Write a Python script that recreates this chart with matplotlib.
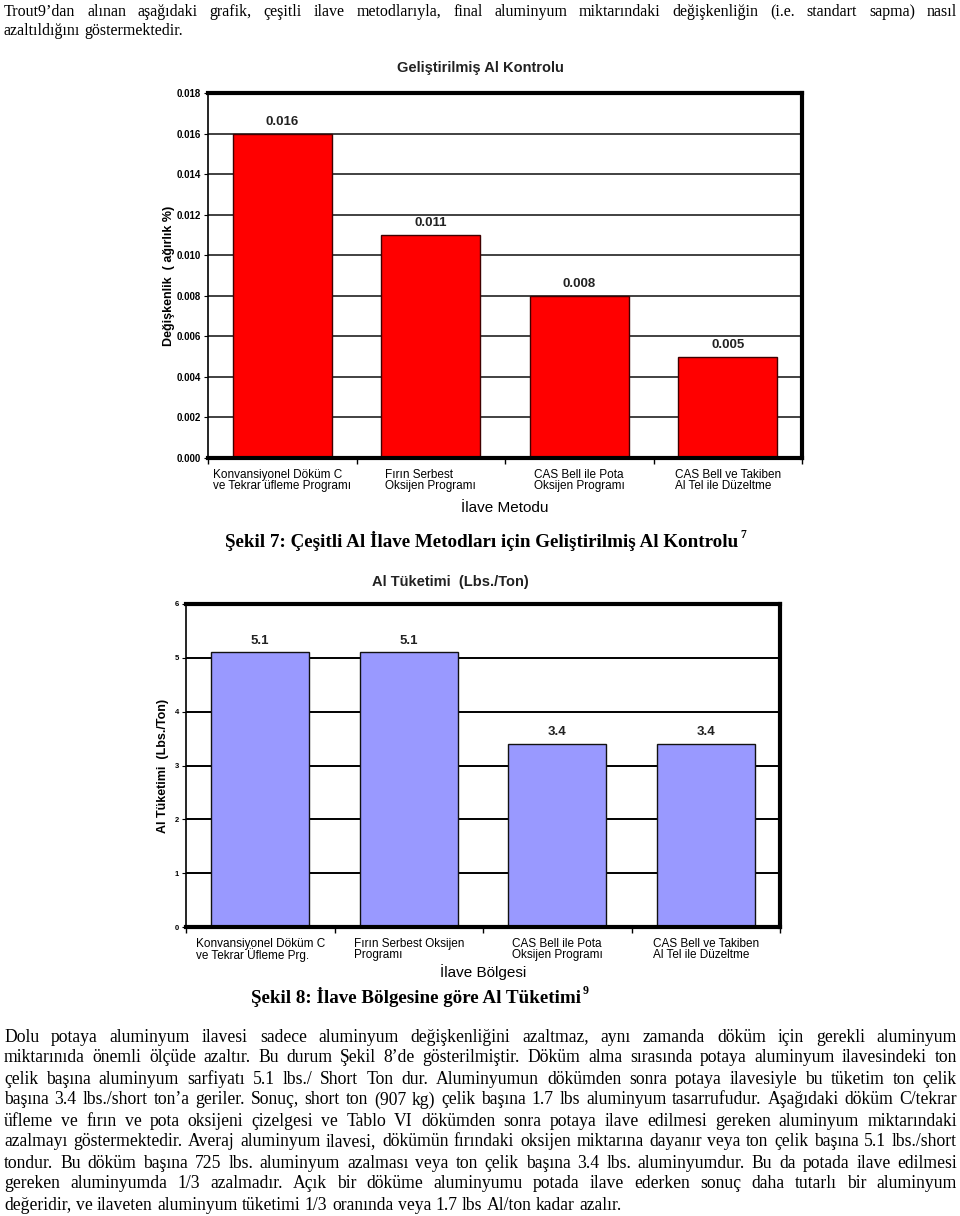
import numpy as np
import matplotlib
matplotlib.use("Agg")
import matplotlib.pyplot as plt

# chart 1 - improved Al control
methods1 = ["Konvansiyonel Döküm C\nve Tekrar üfleme Programı",
            "Fırın Serbest\nOksijen Programı",
            "CAS Bell ile Pota\nOksijen Programı",
            "CAS Bell ve Takiben\nAl Tel ile Düzeltme"]
variation = [0.016, 0.011, 0.008, 0.005]
value_labels1 = ["0.016", "0.011", "0.008", "0.005"]

# chart 2 - Al consumption
methods2 = ["Konvansiyonel Döküm C\nve Tekrar Üfleme Prg.",
            "Fırın Serbest Oksijen\nProgramı",
            "CAS Bell ile Pota\nOksijen Programı",
            "CAS Bell ve Takiben\nAl Tel ile Düzeltme"]
consumption = [5.1, 5.1, 3.4, 3.4]

top_lines = ["Trout9’dan alınan aşağıdaki grafik, çeşitli ilave metodlarıyla, final aluminyum miktarındaki değişkenliğin (i.e. standart sapma) nasıl",
             "azaltıldığını göstermektedir."]
para_lines = [
    "Dolu potaya aluminyum ilavesi sadece aluminyum değişkenliğini azaltmaz, aynı zamanda döküm için gerekli aluminyum",
    "miktarınıda önemli ölçüde azaltır. Bu durum Şekil 8’de gösterilmiştir. Döküm alma sırasında potaya aluminyum ilavesindeki ton",
    "çelik başına aluminyum sarfiyatı 5.1 lbs./ Short Ton dur. Aluminyumun dökümden sonra potaya ilavesiyle bu tüketim ton çelik",
    "başına 3.4 lbs./short ton’a geriler. Sonuç, short ton (907 kg) çelik başına 1.7 lbs aluminyum tasarrufudur. Aşağıdaki döküm C/tekrar",
    "üfleme ve fırın ve pota oksijeni çizelgesi ve Tablo VI dökümden sonra potaya ilave edilmesi gereken aluminyum miktarındaki",
    "azalmayı göstermektedir. Averaj aluminyum ilavesi, dökümün fırındaki oksijen miktarına dayanır veya ton çelik başına 5.1 lbs./short",
    "tondur. Bu döküm başına 725 lbs. aluminyum azalması veya  ton çelik başına 3.4 lbs. aluminyumdur. Bu da potada ilave edilmesi",
    "gereken aluminyumda 1/3 azalmadır.  Açık bir döküme aluminyumu potada ilave ederken sonuç daha tutarlı bir aluminyum",
    "değeridir, ve ilaveten aluminyum tüketimi 1/3 oranında veya 1.7 lbs Al/ton kadar azalır.",
]

W, H = 960, 1216
fig = plt.figure(figsize=(W / 100, H / 100), dpi=100)
fig.patch.set_facecolor("white")
SANS = "Liberation Sans"
SERIF = "Liberation Serif"


def px_axes(l, t, r, b):
    return fig.add_axes([l / W, 1 - b / H, (r - l) / W, (b - t) / H])


def style_frame(ax):
    ax.spines["left"].set_linewidth(1.2)
    for s in ["top", "right", "bottom"]:
        ax.spines[s].set_linewidth(3)
    ax.set_xlim(-0.5, 3.5)
    ax.set_xticks(np.arange(4))
    ax.tick_params(axis="x", length=0, pad=8)
    ax.set_xticks(np.arange(-0.5, 4, 1), minor=True)
    ax.tick_params(axis="x", which="minor", length=4, width=1, direction="out")
    ax.set_axisbelow(True)


# ---- chart 1
ax1 = px_axes(208, 93, 802, 458)
x = np.arange(len(variation))
ax1.bar(x, variation, width=0.67, color="#ff0000", edgecolor="#400000", linewidth=1)
for xi, v, lab in zip(x, variation, value_labels1):
    ax1.annotate(lab, (xi, v), xytext=(0, 4), textcoords="offset points",
                 ha="center", va="bottom", fontsize=9.5, fontweight="bold",
                 family=SANS, color="#222222")
ax1.set_ylim(0, 0.018)
ax1.set_yticks(np.arange(0, 0.0181, 0.002))
ax1.set_yticklabels(["%.3f" % v for v in np.arange(0, 0.0181, 0.002)],
                    fontsize=7, fontweight="bold", family=SANS)
ax1.tick_params(axis="y", length=3, pad=2)
ax1.yaxis.grid(True, color="#333333", linewidth=1.3)
style_frame(ax1)
ax1.set_xticklabels(methods1, fontsize=8.5, family=SANS, multialignment="left",
                    linespacing=0.85)
ax1.set_ylabel("Değişkenlik  ( ağırlık %)", fontsize=9, fontweight="bold",
               family=SANS, labelpad=1)
ax1.set_xlabel("İlave Metodu", fontsize=11, family=SANS, labelpad=7)
fig.text(480 / W, 1 - 68 / H, "Geliştirilmiş Al Kontrolu", ha="center", va="center",
         fontsize=10.5, fontweight="bold", family=SANS, color="#222222")

# ---- chart 2
ax2 = px_axes(186, 604, 780, 927)
ax2.bar(x, consumption, width=0.66, color="#9999ff", edgecolor="#111111", linewidth=1)
for xi, v in zip(x, consumption):
    ax2.annotate("%.1f" % v, (xi, v), xytext=(0, 4), textcoords="offset points",
                 ha="center", va="bottom", fontsize=9.5, fontweight="bold",
                 family=SANS, color="#222222")
ax2.set_ylim(0, 6)
ax2.set_yticks(range(7))
ax2.set_yticklabels([str(i) for i in range(7)], fontsize=5.5, fontweight="bold", family=SANS)
ax2.tick_params(axis="y", length=3, pad=2)
ax2.yaxis.grid(True, color="black", linewidth=1.4)
style_frame(ax2)
ax2.set_xticklabels(methods2, fontsize=8.5, family=SANS, multialignment="left",
                    linespacing=0.85)
ax2.set_ylabel("Al Tüketimi  (Lbs./Ton)", fontsize=9, fontweight="bold",
               family=SANS, labelpad=4)
ax2.set_xlabel("İlave Bölgesi", fontsize=11, family=SANS, labelpad=1)
fig.text(450 / W, 1 - 582 / H, "Al Tüketimi  (Lbs./Ton)", ha="center", va="center",
         fontsize=10.5, fontweight="bold", family=SANS, color="#222222")

# ---- document text
fig.canvas.draw()
rend = fig.canvas.get_renderer()


def put_line(line, y, justify=True, size=11.5, x0=4, x1=957, weight="normal"):
    words = line.split()
    ts = [fig.text(0, 1 - y / H, w, fontsize=size, family=SERIF, va="center",
                   fontweight=weight) for w in words]
    ws = [t.get_window_extent(renderer=rend).width for t in ts]
    space = 0.25 * size * 100 / 72
    natural = sum(ws) + space * (len(words) - 1)
    if natural > x1 - x0:
        k = (x1 - x0) / natural
        for t in ts:
            t.set_fontsize(size * k)
        ws = [t.get_window_extent(renderer=rend).width for t in ts]
        space *= k
    if justify and len(words) > 1:
        space = (x1 - x0 - sum(ws)) / (len(words) - 1)
    xp = x0
    for t, w in zip(ts, ws):
        t.set_x(xp / W)
        xp += w + space


def caption(text, sup, xc, y, size=13.7):
    t = fig.text(0, 1 - y / H, text, fontsize=size, family=SERIF, fontweight="bold", va="center")
    w = t.get_window_extent(renderer=rend).width
    xs = xc - w / 2
    t.set_x(xs / W)
    fig.text((xs + w + 2) / W, 1 - (y - 6) / H, sup, fontsize=8.5, family=SERIF,
             fontweight="bold", va="center")


put_line(top_lines[0], 12)
put_line(top_lines[1], 31, justify=False)

caption("Şekil 7: Çeşitli Al İlave Metodları için Geliştirilmiş Al Kontrolu", "7", 482, 541)
caption("Şekil 8: İlave Bölgesine göre Al Tüketimi", "9", 416, 997)

for i, line in enumerate(para_lines):
    put_line(line, 1037 + 21 * i, justify=(i < len(para_lines) - 1), size=12.7)

fig.savefig("out.png", dpi=100, facecolor="white")
